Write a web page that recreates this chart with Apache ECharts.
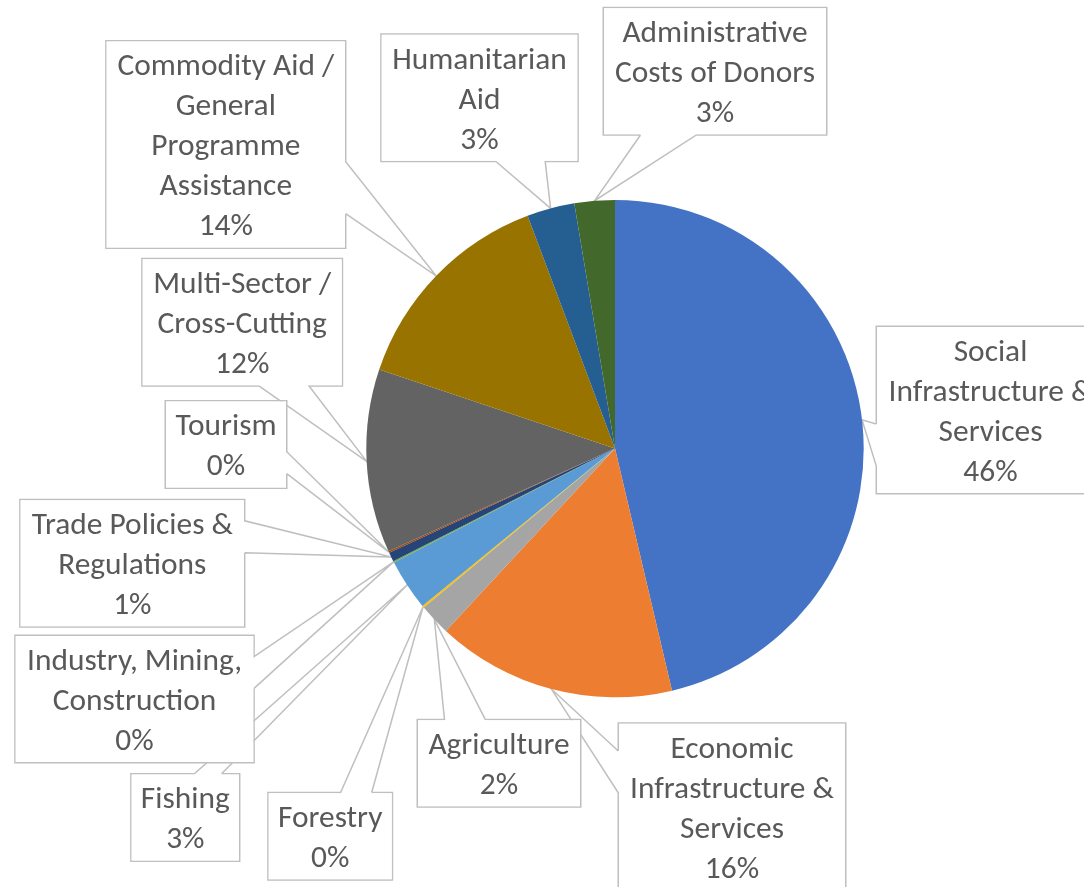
<!DOCTYPE html>
<html><head><meta charset="utf-8">
<script src="https://cdn.jsdelivr.net/npm/echarts/dist/echarts.min.js"></script>
<style>html,body{margin:0;padding:0;background:#fff}#main{width:1084px;height:887px}</style>
</head><body><div id="main"></div>
<script>
const categories = ['Social Infrastructure & Services', 'Economic Infrastructure & Services', 'Agriculture', 'Forestry', 'Fishing', 'Industry, Mining, Construction', 'Trade Policies & Regulations', 'Tourism', 'Multi-Sector / Cross-Cutting', 'Commodity Aid / General Programme Assistance', 'Humanitarian Aid', 'Administrative Costs of Donors'];
const values = [46.35, 15.6, 2.06, 0.13, 3.33, 0.1, 0.6, 0.1, 11.94, 14.14, 3.1, 2.62];
const colors = ['#4472C4','#ED7D31','#A5A5A5','#FFC000','#5B9BD5','#70AD47','#264478','#9E480E','#636363','#997300','#255E91','#43682B'];
// how each category label wraps in its callout
const labelText = ['Social\nInfrastructure &\nServices', 'Economic\nInfrastructure &\nServices', 'Agriculture', 'Forestry', 'Fishing', 'Industry, Mining,\nConstruction', 'Trade Policies &\nRegulations', 'Tourism', 'Multi-Sector /\nCross-Cutting', 'Commodity Aid /\nGeneral\nProgramme\nAssistance', 'Humanitarian\nAid', 'Administrative\nCosts of Donors'];
// callout box layout: [center x, center y, width]
const boxes = [[990.5,410,227],[732,806.8,226],[499,763.3,162],[330.2,836.3,123],[185.3,817.5,107.3],[134.5,699,237.6],[132.3,563.3,223.3],[226,444.5,120],[242.2,322.2,199],[225.8,144.5,238.3],[479.5,97.7,195.6],[715,71.2,222]];

const FONT = 'Carlito, Lato, sans-serif';
const FS = 31.4;
const LH = 40;
const PAD = [6, 0, 0, 0];

const chart = echarts.init(document.getElementById('main'), null, {renderer: 'canvas'});
const data = categories.map((c, i) => ({
  name: c, value: values[i],
  itemStyle: {color: colors[i]},
  label: {width: boxes[i][2]}
}));

function boxHeight(i) {
  return (labelText[i].split('\n').length + 1) * LH + PAD[0] + PAD[2];
}

// Excel-style rectangular callout outline with a wedge pointing at (ax, ay)
function callout(i, ax, ay) {
  const b = boxes[i];
  const w = b[2], h = boxHeight(i);
  const e = 0.75;
  const x0 = b[0] - w / 2 - e, y0 = b[1] - h / 2 - e;
  const x1 = b[0] + w / 2 + e, y1 = b[1] + h / 2 + e;
  const W = x1 - x0, H = y1 - y0;
  const dx = ax - b[0], dy = ay - b[1];
  const dq = dx * h / w;
  const TL = [x0, y0], TR = [x1, y0], BR = [x1, y1], BL = [x0, y1];
  const A = [ax, ay];
  if (Math.abs(dy) > Math.abs(dq)) {
    const g1 = dx > 0 ? 7 : 2, g2 = dx > 0 ? 10 : 5;
    const xa = x0 + W * g1 / 12, xb = x0 + W * g2 / 12;
    if (dy < 0) { // top side
      return [[xb, y0], TR, BR, BL, TL, [xa, y0], A, [xb, y0]];
    } else { // bottom side
      return [[xa, y1], BL, TL, TR, BR, [xb, y1], A, [xa, y1]];
    }
  } else {
    const g1 = dy > 0 ? 7 : 2, g2 = dy > 0 ? 10 : 5;
    const ya = y0 + H * g1 / 12, yb = y0 + H * g2 / 12;
    if (dx > 0) { // right side
      return [[x1, yb], BR, BL, TL, TR, [x1, ya], A, [x1, yb]];
    } else { // left side
      return [[x0, ya], TL, TR, BR, BL, [x0, yb], A, [x0, ya]];
    }
  }
}

chart.setOption({
  animation: false,
  backgroundColor: '#fff',
  series: [{
    type: 'pie',
    center: [615, 448.6],
    radius: 248.7,
    startAngle: 90,
    clockwise: true,
    avoidLabelOverlap: false,
    data: data,
    itemStyle: {borderWidth: 0},
    label: {
      show: true,
      position: 'outside',
      formatter: p => labelText[p.dataIndex] + '\n' + Math.round(p.percent) + '%',
      fontFamily: FONT,
      fontSize: FS,
      lineHeight: LH,
      color: '#595959',
      align: 'center',
      backgroundColor: '#fff',
      borderWidth: 0,
      padding: PAD
    },
    labelLine: {show: true, length: 10, length2: 10, smooth: false, lineStyle: {color: '#BFBFBF', width: 1.5, join: 'miter'}},
    labelLayout: function (p) {
      const i = p.dataIndex;
      const a = p.labelLinePoints && p.labelLinePoints[0];
      const res = {x: boxes[i][0], y: boxes[i][1] - boxHeight(i) / 2, align: 'center', verticalAlign: 'top'};
      if (a) res.labelLinePoints = callout(i, a[0], a[1]);
      return res;
    }
  }]
});
</script></body></html>
